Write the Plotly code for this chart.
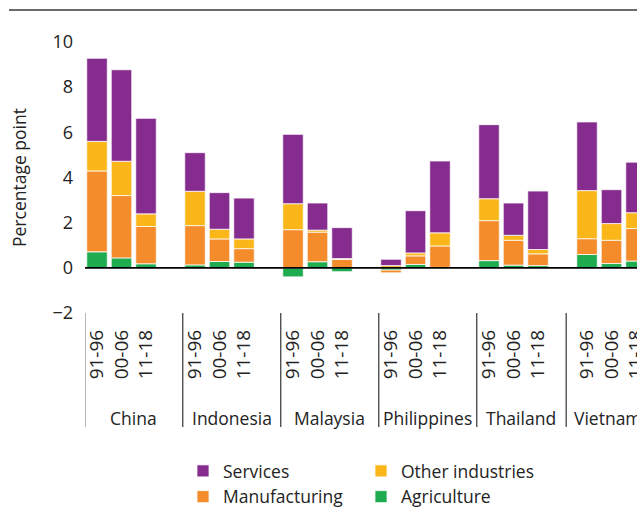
import plotly.graph_objects as go

countries = ["China", "Indonesia", "Malaysia", "Philippines", "Thailand", "Vietnam"]
periods = ["91-96", "00-06", "11-18"]

# values per country (3 periods each), percentage points
agriculture = [0.71, 0.44, 0.18,  0.13, 0.28, 0.25,  -0.40, 0.27, -0.17,  -0.10, 0.15, 0.02,  0.32, 0.12, 0.10,  0.59, 0.19, 0.30]
manufacturing = [3.58, 2.76, 1.65,  1.74, 1.00, 0.60,  1.69, 1.31, 0.37,  -0.12, 0.38, 0.95,  1.77, 1.10, 0.52,  0.70, 1.03, 1.44]
other_industries = [1.31, 1.52, 0.56,  1.52, 0.43, 0.43,  1.15, 0.09, 0.04,  0.10, 0.13, 0.58,  0.97, 0.22, 0.19,  2.13, 0.74, 0.70]
services = [3.68, 4.05, 4.23,  1.71, 1.62, 1.81,  3.07, 1.20, 1.37,  0.28, 1.87, 3.18,  3.28, 1.43, 2.59,  3.04, 1.50, 2.24]

y_ticks = [-2, 0, 2, 4, 6, 8, 10]
y_ticktext = ["\u22122", "0", "2", "4", "6", "8", "10"]

# group divider positions (in slot units) as seen in the picture
dividers = [-0.5, 3.5, 7.5, 11.5, 15.5, 19.15]

colors = {
    "Agriculture": "#1fab4f",
    "Manufacturing": "#f48c2c",
    "Other industries": "#fbb61a",
    "Services": "#862c8e",
}

slot_gap = 4  # 3 bars + 1 blank per country
xpos = [g * slot_gap + i for g in range(len(countries)) for i in range(len(periods))]
ticktext = [p for _ in countries for p in periods]

FONT = "Open Sans"
TXT = "#232323"

W, H = 637, 514
ml, mr, mt = 85, 0, 42
plot_bottom = 313
mb = H - plot_bottom
ph = H - mt - mb
pw = W - ml - mr


def px_x(px):  # pixel x -> paper x
    return (px - ml) / pw


def px_y(py):  # pixel y -> paper y
    return (plot_bottom - py) / ph


fig = go.Figure()
series = [
    ("Agriculture", agriculture, "legend2", 2),
    ("Manufacturing", manufacturing, "legend", 2),
    ("Other industries", other_industries, "legend2", 1),
    ("Services", services, "legend", 1),
]
for name, vals, leg, rank in series:
    fig.add_bar(
        x=xpos, y=vals, name=name, legend=leg, legendrank=rank, legendgroup=name,
        marker=dict(color=colors[name], line=dict(color="rgba(255,255,255,0.75)", width=1)),
    )

shapes = []
# zero line on top of bars
shapes.append(dict(type="line", xref="paper", yref="y", x0=0, x1=1, y0=0, y1=0,
                   line=dict(color="#000000", width=1.6), layer="above"))
# group dividers
for d in dividers:
    shapes.append(dict(type="line", xref="x", yref="paper", x0=d, x1=d, y0=px_y(427), y1=0,
                       line=dict(color="#333333", width=1.2)))
# top rule
shapes.append(dict(type="line", xref="paper", yref="paper", x0=px_x(9), x1=1,
                   y0=px_y(10), y1=px_y(10), line=dict(color="#3a3a3a", width=1.5)))

annotations = []
label_y = px_y(418)
for g, c in enumerate(countries):
    if g + 1 < len(dividers):
        annotations.append(dict(x=(dividers[g] + dividers[g + 1]) / 2, y=label_y, xref="x", yref="paper",
                                text=c, showarrow=False, xanchor="center", yanchor="middle",
                                font=dict(family=FONT, size=17.5, color=TXT)))
    else:
        annotations.append(dict(x=dividers[g] + 0.22, y=label_y, xref="x", yref="paper",
                                text=c, showarrow=False, xanchor="left", yanchor="middle",
                                font=dict(family=FONT, size=17.5, color=TXT)))
annotations.append(dict(x=px_x(19), y=px_y(178), xref="paper", yref="paper",
                        text="Percentage point", textangle=-90, showarrow=False,
                        xanchor="center", yanchor="middle",
                        font=dict(family=FONT, size=17.5, color=TXT)))

legend_common = dict(orientation="v", xanchor="left", yanchor="top", traceorder="normal",
                     font=dict(family=FONT, size=17.5, color=TXT), bgcolor="rgba(0,0,0,0)",
                     tracegroupgap=8)

fig.update_layout(
    width=W, height=H,
    margin=dict(l=ml, r=mr, t=mt, b=mb, autoexpand=False),
    barmode="relative", bargap=0.163,
    plot_bgcolor="white", paper_bgcolor="white",
    font=dict(family=FONT, color=TXT, size=17.5),
    shapes=shapes, annotations=annotations,
    showlegend=True,
    legend=dict(x=px_x(183), y=px_y(453), **legend_common),
    legend2=dict(x=px_x(361), y=px_y(453), **legend_common),
)
fig.update_xaxes(range=[-0.49, 22.04], tickvals=xpos, ticktext=ticktext, tickangle=-90,
                 showgrid=False, zeroline=False, showline=False, ticks="",
                 ticklabeloverflow="allow",
                 tickfont=dict(family=FONT, size=19, color=TXT), ticklabelstandoff=12)
fig.update_yaxes(range=[-2, 10], tickvals=y_ticks, ticktext=y_ticktext,
                 showgrid=False, zeroline=False, showline=False, ticks="",
                 tickfont=dict(family=FONT, size=18, color=TXT), ticklabelstandoff=11)

fig.write_html(
    "out.html",
    config={"displayModeBar": False},
    post_script="document.body.style.margin='0';document.body.style.overflow='hidden';"
                "document.documentElement.style.overflow='hidden';",
)
